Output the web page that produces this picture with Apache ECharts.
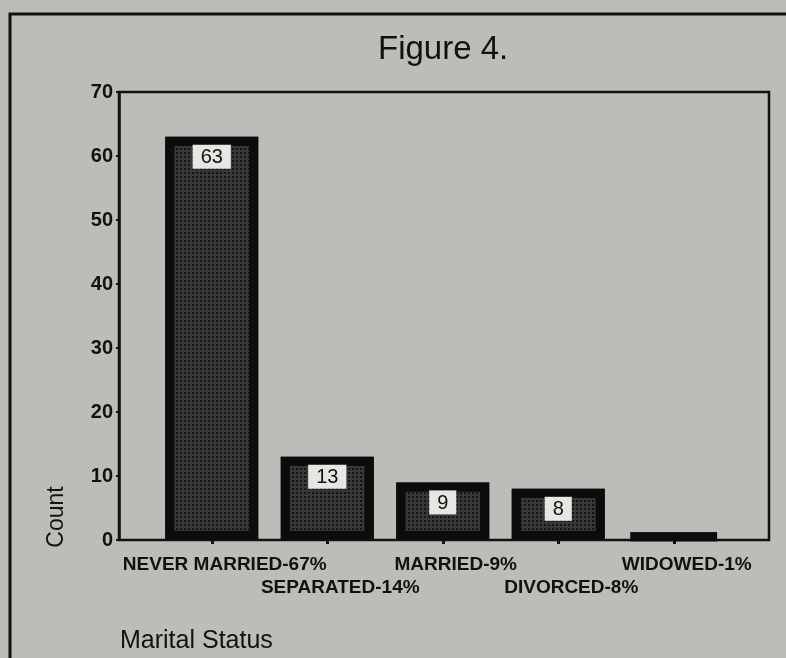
<!DOCTYPE html>
<html><head><meta charset="utf-8">
<script src="https://cdn.jsdelivr.net/npm/echarts@6/dist/echarts.min.js"></script>
<style>html,body{margin:0;padding:0;background:#bcbdb8;}#c{width:786px;height:658px;}</style>
</head><body><div id="c"></div>
<script>
const categories = ['NEVER MARRIED-67%', 'SEPARATED-14%', 'MARRIED-9%', 'DIVORCED-8%', 'WIDOWED-1%'];
const counts = [63, 13, 9, 8, 1];
const yTicks = [0, 10, 20, 30, 40, 50, 60, 70];

const FONT = '"Liberation Sans", Arial, sans-serif';
const chart = echarts.init(document.getElementById('c'));
chart.setOption({
  backgroundColor: '#bcbdb8',
  animation: false,
  title: { text: 'Figure 4.', left: 373, top: 28, textStyle: { fontFamily: FONT, fontSize: 33, fontWeight: 'normal', color: '#111' } },
  graphic: [
    { type: 'rect', shape: { x: 10, y: 14, width: 800, height: 700 }, style: { fill: 'none', stroke: '#111', lineWidth: 3 } },
    { type: 'text', x: 57, y: 517, rotation: Math.PI / 2, style: { text: 'Count', fontFamily: FONT, fontSize: 23, fill: '#111', textAlign: 'center', textVerticalAlign: 'middle' } },
    { type: 'text', x: 120, y: 629, style: { text: 'Marital Status', fontFamily: FONT, fontSize: 25, fill: '#111' } }
  ],
  grid: [
    { left: 154, right: 54.5, top: 92, bottom: 118 },
    { left: 119, right: 17, top: 92, bottom: 118, show: true, borderColor: '#111', borderWidth: 2.5, backgroundColor: 'transparent' }
  ],
  xAxis: [
    { type: 'category', gridIndex: 0, data: categories,
      axisLine: { show: false },
      axisTick: { show: true, alignWithLabel: true, length: 4, lineStyle: { color: '#111', width: 3 } },
      axisLabel: { interval: 0, color: '#111', fontFamily: FONT, fontWeight: 'bold', fontSize: 19, lineHeight: 23, margin: 13,
        padding: [0, 0, 0, 26],
        formatter: (v, i) => (i % 2 ? '\n' + v : v) } },
    { type: 'value', gridIndex: 1, show: false }
  ],
  yAxis: [
    { type: 'value', gridIndex: 0, min: yTicks[0], max: yTicks[yTicks.length - 1], interval: 10, offset: 35,
      splitLine: { show: false },
      axisLine: { show: true, lineStyle: { color: '#111', width: 2.5 } },
      axisTick: { show: true, length: 3, lineStyle: { color: '#111', width: 2 } },
      axisLabel: { color: '#111', fontFamily: FONT, fontWeight: 'bold', fontSize: 20, margin: 6 } },
    { type: 'value', gridIndex: 1, show: false }
  ],
  series: [{
    type: 'bar', xAxisIndex: 0, yAxisIndex: 0, barWidth: 93,
    data: counts.map(v => v < 2 ? { value: v, label: { show: false } } : v),
    itemStyle: {
      color: '#383838', borderColor: '#0c0c0c', borderWidth: 9,
      decal: { symbol: 'rect', symbolSize: 1, dashArrayX: [2, 2], dashArrayY: [2, 2], color: '#151515' }
    },
    label: { show: true, position: 'insideTop', distance: 8, color: '#111', fontFamily: FONT, fontSize: 20,
      backgroundColor: '#e6e6e2', padding: [3, 8, 1, 8] }
  }]
});
</script></body></html>
